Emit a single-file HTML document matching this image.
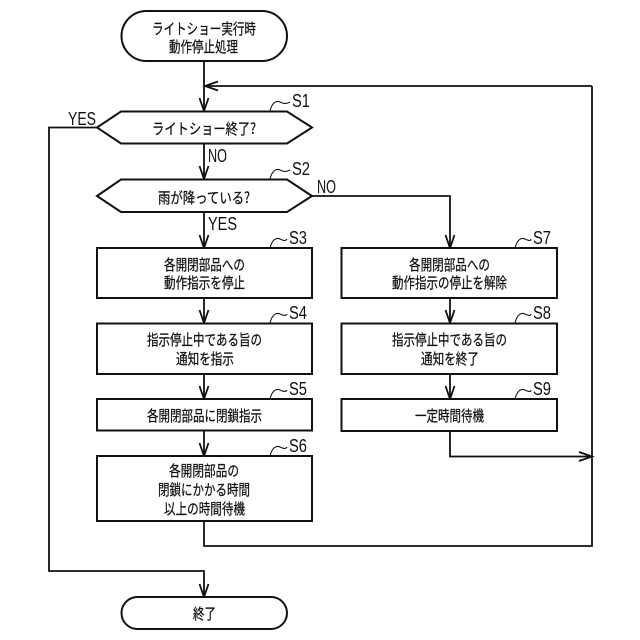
<!DOCTYPE html>
<html>
<head>
<meta charset="utf-8">
<style>
html,body{margin:0;padding:0;background:#fff;}
svg{display:block;}
text{font-family:"Liberation Sans","Noto Sans CJK JP",sans-serif;fill:#111;}
.j{font-size:15px;text-anchor:start;font-family:"Noto Sans CJK JP","Liberation Sans",sans-serif;stroke:#111;stroke-width:.25;}
.l{font-size:18px;}
.s{fill:none;stroke:#111;stroke-width:1.8;}
.b{fill:#fff;stroke:#111;stroke-width:2;}
.q{fill:none;stroke:#111;stroke-width:1.1;}
</style>
</head>
<body>
<svg width="640" height="640" viewBox="0 0 640 640" xmlns="http://www.w3.org/2000/svg">
<!-- connectors -->
<path class="s" d="M204 61V111M592 86H205M204 143V179M204 212V248M204 298V323M204 374V399M204 430V456"/>
<path class="s" d="M312 196H450V248M450 298V323M450 374V399M450 431V456.5H592M592 86V546H204V521"/>
<path class="s" d="M97 127.5H49V571H204V597"/>
<!-- arrowheads -->
<path class="s" d="M199.500 98L204 111L208.500 98M199.500 166L204 179L208.500 166M199.500 235L204 248L208.500 235M199.500 310L204 323L208.500 310M199.500 386L204 399L208.500 386M199.500 443L204 456L208.500 443M199.500 584L204 597L208.500 584"/>
<path class="s" d="M445.500 235L450 248L454.500 235M445.500 310L450 323L454.500 310M445.500 386L450 399L454.500 386"/>
<path class="s" d="M218 81.500L205 86L218 90.500M579 452L592 456.500L579 461"/>
<!-- shapes -->
<rect class="b" x="121.500" y="11" width="165.500" height="50" rx="25" ry="25"/>
<rect class="b" x="121.500" y="597" width="165.500" height="32" rx="16" ry="16"/>
<path class="b" d="M97 127.500L121 111.500H287L312 127.500L287 143.500H121Z"/>
<path class="b" d="M97 196L121 179.500H287L312 196L287 212H121Z"/>
<rect class="b" x="97" y="248" width="215" height="50"/>
<rect class="b" x="97" y="323.500" width="215" height="50.500"/>
<rect class="b" x="97" y="399" width="215" height="31.500"/>
<rect class="b" x="97" y="456" width="215" height="65"/>
<rect class="b" x="341.500" y="248" width="215.500" height="50"/>
<rect class="b" x="341.500" y="323.500" width="215.500" height="50.500"/>
<rect class="b" x="341.500" y="399" width="215.500" height="32"/>
<!-- main labels -->
<text class="j" x="152" y="34" textLength="104" lengthAdjust="spacingAndGlyphs">ライトショー実行時</text>
<text class="j" x="169" y="52" textLength="69" lengthAdjust="spacingAndGlyphs">動作停止処理</text>
<text class="j" x="152" y="134" textLength="104" lengthAdjust="spacingAndGlyphs">ライトショー終了?</text>
<text class="j" x="158" y="203" textLength="92" lengthAdjust="spacingAndGlyphs">雨が降っている?</text>
<text class="j" x="164" y="270" textLength="81" lengthAdjust="spacingAndGlyphs">各開閉部品への</text>
<text class="j" x="164" y="288" textLength="81" lengthAdjust="spacingAndGlyphs">動作指示を停止</text>
<text class="j" x="147" y="345" textLength="115" lengthAdjust="spacingAndGlyphs">指示停止中である旨の</text>
<text class="j" x="176" y="364" textLength="58" lengthAdjust="spacingAndGlyphs">通知を指示</text>
<text class="j" x="147" y="421" textLength="115" lengthAdjust="spacingAndGlyphs">各開閉部品に閉鎖指示</text>
<text class="j" x="169" y="476" textLength="70" lengthAdjust="spacingAndGlyphs">各開閉部品の</text>
<text class="j" x="158" y="495" textLength="92" lengthAdjust="spacingAndGlyphs">閉鎖にかかる時間</text>
<text class="j" x="164" y="514" textLength="81" lengthAdjust="spacingAndGlyphs">以上の時間待機</text>
<text class="j" x="193" y="619" textLength="23" lengthAdjust="spacingAndGlyphs">終了</text>
<text class="j" x="409" y="270" textLength="81" lengthAdjust="spacingAndGlyphs">各開閉部品への</text>
<text class="j" x="392" y="288" textLength="115" lengthAdjust="spacingAndGlyphs">動作指示の停止を解除</text>
<text class="j" x="392" y="345" textLength="115" lengthAdjust="spacingAndGlyphs">指示停止中である旨の</text>
<text class="j" x="421" y="364" textLength="58" lengthAdjust="spacingAndGlyphs">通知を終了</text>
<text class="j" x="415" y="421" textLength="69" lengthAdjust="spacingAndGlyphs">一定時間待機</text>
<!-- flow labels -->
<text class="l" x="68" y="125" textLength="28" lengthAdjust="spacingAndGlyphs">YES</text>
<text class="l" x="208" y="162" textLength="19" lengthAdjust="spacingAndGlyphs">NO</text>
<text class="l" x="208" y="230" textLength="29" lengthAdjust="spacingAndGlyphs">YES</text>
<text class="l" x="317" y="193" textLength="19" lengthAdjust="spacingAndGlyphs">NO</text>
<!-- step refs -->
<path class="q" d="M270 111C272 103 276 100 280 102C284 104 286 104 290 102"/>
<path class="q" d="M270 179C272 171 276 168 280 170C284 172 286 172 290 170"/>
<path class="q" d="M270 248C272 240 276 237 280 239C284 241 286 241 287 239"/>
<path class="q" d="M270 323C272 315 276 312 280 314C284 316 286 316 287 314"/>
<path class="q" d="M270 399C272 391 276 388 280 390C284 392 286 392 287 390"/>
<path class="q" d="M270 456C272 448 276 445 280 447C284 449 286 449 287 447"/>
<path class="q" d="M515 248C517 240 521 237 525 239C529 241 531 241 531 239"/>
<path class="q" d="M515 323C517 315 521 312 525 314C529 316 531 316 531 314"/>
<path class="q" d="M515 399C517 391 521 388 525 390C529 392 531 392 531 390"/>
<text class="l" x="292" y="107" textLength="18" lengthAdjust="spacingAndGlyphs">S1</text>
<text class="l" x="292" y="175" textLength="18" lengthAdjust="spacingAndGlyphs">S2</text>
<text class="l" x="289" y="244" textLength="18" lengthAdjust="spacingAndGlyphs">S3</text>
<text class="l" x="289" y="319" textLength="18" lengthAdjust="spacingAndGlyphs">S4</text>
<text class="l" x="289" y="395" textLength="18" lengthAdjust="spacingAndGlyphs">S5</text>
<text class="l" x="289" y="452" textLength="18" lengthAdjust="spacingAndGlyphs">S6</text>
<text class="l" x="533" y="244" textLength="18" lengthAdjust="spacingAndGlyphs">S7</text>
<text class="l" x="533" y="319" textLength="18" lengthAdjust="spacingAndGlyphs">S8</text>
<text class="l" x="533" y="395" textLength="18" lengthAdjust="spacingAndGlyphs">S9</text>
</svg>
</body>
</html>
